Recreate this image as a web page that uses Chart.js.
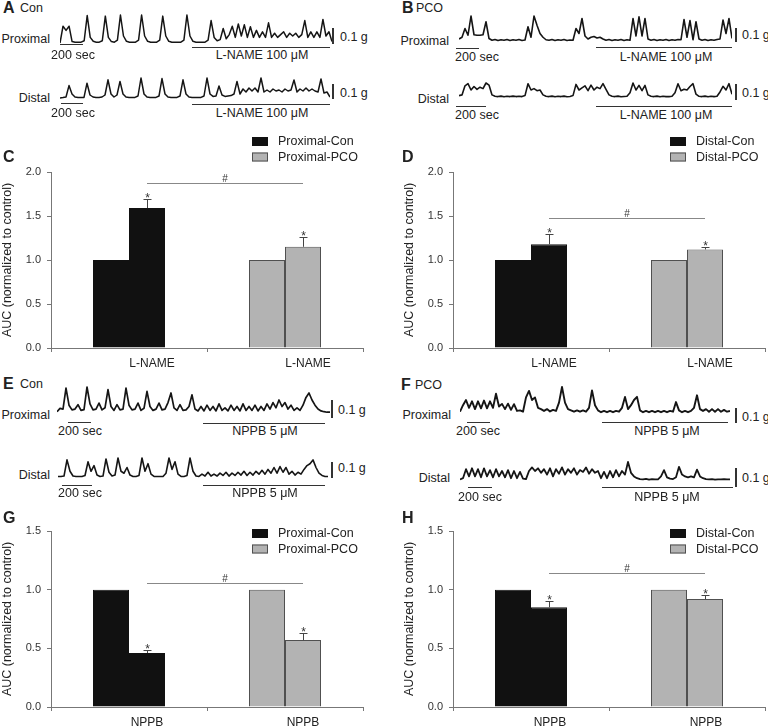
<!DOCTYPE html>
<html>
<head>
<meta charset="utf-8">
<script src="https://cdn.jsdelivr.net/npm/chart.js@4.4.0/dist/chart.umd.min.js"></script>
<style>
  body { margin: 0; background: #fff; }
  #fig { position: relative; width: 768px; height: 726px; overflow: hidden; background: #fff;
         font-family: 'Liberation Sans', Arial, Helvetica, sans-serif; color: #222; }
  #fig canvas { position: absolute; }
  .t { position: absolute; white-space: nowrap; font-size: 12.5px; line-height: 1; }
  .ln { position: absolute; background: #333; }
</style>
</head>
<body>
<div id="fig"></div>
<script>
// contraction traces, 0 = resting tone, 10 = tallest contraction of that trace
var conProxLName = [0, 6, 4.5, 6, 0.5, 0.3, 0.3, 0.3, 0.8, 9.8,
  2, 0.6, 0.3, 0.3, 0.8, 9.6, 2, 0.5, 0.3, 1,
  10, 2.5, 0.6, 0.3, 0.3, 0.3, 1, 10, 2.5, 0.6,
  0.3, 0.3, 0.3, 1, 9.6, 2.5, 0.6, 0.3, 0.3, 0.3,
  0.3, 1, 10, 2.5, 0.6, 0.3, 0.3, 0.3, 0.3, 1,
  8, 2, 0.8, 1.2, 5.2, 1.5, 3, 6, 2, 6.8,
  2.5, 6.5, 2, 5.8, 2, 4.5, 2, 4, 2, 7.2,
  2, 3.5, 2, 3, 4, 2, 3.5, 2.5, 3.5, 2,
  3, 8, 2, 4, 2, 4, 2, 8.4, 2.5, 4,
  0.5];
var conDistLName = [0, 0.2, 0.5, 6.2, 2, 0.5, 0.3, 0.3, 0.3, 7.4,
  1.5, 0.5, 0.3, 0.3, 0.5, 1.5, 9.1, 2, 0.5, 1.5,
  8.3, 2, 0.5, 0.3, 0.3, 0.3, 1, 10, 2, 0.5,
  0.3, 0.3, 0.3, 1, 9.7, 2, 0.5, 0.3, 0.3, 0.3,
  1, 9.1, 2, 0.5, 0.3, 0.3, 0.3, 0.3, 1, 10,
  2, 0.8, 1, 6, 1.5, 0.8, 1, 1.2, 2, 8.3,
  2, 4.5, 3, 5, 3.5, 5, 3, 10, 3, 4,
  3, 4.5, 3.5, 4, 3, 4.5, 3.5, 4, 9, 3,
  4.5, 3.5, 5, 3.5, 4.5, 3.5, 3, 9.5, 2.5, 3,
  0.5];
var pcoProxLName = [0.8, 1.5, 5, 2.3, 10, 2.5, 2.3, 2.3, 2.5, 7.7,
  1, 0.3, 0.6, 0.2, 0.5, 0.3, 0.6, 0.2, 0.5, 0.3,
  0.6, 0.2, 0.4, 5.7, 1.5, 10, 6.3, 3, 1.5, 0.5,
  0.3, 0.6, 0.2, 0.5, 0.3, 0.6, 0.2, 0.4, 0.3, 5,
  3, 9, 2, 0.8, 1.5, 1.8, 1.2, 1.5, 0.8, 0.3,
  0.6, 0.2, 0.5, 0.3, 0.6, 0.2, 0.5, 0.3, 9, 2,
  9.7, 2, 9, 0.8, 0.3, 0.6, 0.2, 0.5, 0.3, 0.6,
  0.2, 0.5, 0.3, 0.6, 0.5, 8.6, 1.5, 8.2, 0.5, 7.7,
  0.8, 0.3, 0.6, 0.2, 0.5, 0.3, 0.6, 0.8, 8.4, 3,
  9, 1];
var pcoDistLName = [1, 1.5, 8, 9.5, 5, 7.5, 5.5, 7, 6, 10,
  8.5, 1.5, 0.5, 0.3, 0.6, 0.2, 0.5, 0.3, 0.6, 0.3,
  0.5, 0.3, 1, 9.5, 5, 6, 4.5, 5, 1.5, 0.5,
  0.3, 0.6, 0.2, 0.5, 0.3, 0.6, 0.2, 0.4, 1, 9,
  5, 6.5, 8, 4.5, 8.5, 5, 7, 6, 9.5, 5.5,
  1.5, 0.5, 0.3, 0.6, 0.2, 0.4, 0.5, 3, 10, 5,
  8.3, 4.5, 8.3, 1.5, 0.5, 0.3, 0.6, 0.2, 0.5, 0.3,
  0.3, 0.5, 3, 9.5, 4.5, 5.5, 5, 7.5, 9.5, 2,
  0.5, 0.3, 0.6, 0.2, 0.5, 0.3, 0.5, 3.6, 7.6, 5,
  9.5, 2];
var conProxNppb = [0.5, 1.8, 1.5, 9.6, 3, 1.2, 1.5, 3.2, 1, 1.3,
  10, 3.5, 1.2, 1.5, 3.8, 1.2, 2, 9, 2.5, 1,
  3.2, 1.2, 1.5, 9.6, 3, 1.2, 1.5, 3.8, 1, 1.8,
  8.3, 2.5, 1, 1.5, 3.8, 1.2, 1.5, 4, 7.7, 2,
  1, 3.2, 1, 1.2, 2.5, 7, 1.5, 0.8, 2.5, 0.8,
  3, 1, 2.5, 0.8, 3.5, 1, 2, 0.8, 3, 1,
  2.5, 0.8, 3.5, 1, 2.5, 1, 3, 0.8, 2.5, 1,
  3.5, 1.5, 4, 2, 5, 2.5, 4, 1.5, 3, 1,
  2, 1, 3, 6, 7.7, 5, 3, 1.5, 0.8, 0.5,
  0.3, 0.3];
var conDistNppb = [0.3, 0.3, 0.5, 9, 3, 0.5, 0.3, 0.3, 0.3, 0.8,
  8, 3, 6, 1, 0.3, 0.5, 9.5, 2.5, 0.5, 1,
  10, 3, 2, 5, 1, 0.3, 0.3, 0.8, 10, 3,
  7, 1.5, 0.3, 0.3, 0.3, 0.3, 2, 10, 4, 8,
  1.5, 0.3, 0.3, 0.8, 10, 3, 0.5, 0.3, 1.5, 0.5,
  2.5, 0.5, 1.5, 0.5, 2, 0.8, 2.5, 0.5, 2, 0.8,
  2.5, 1, 3, 0.8, 2.5, 1, 3, 1.5, 3.5, 1.5,
  4, 2, 5, 2, 5.5, 2.5, 5, 1.5, 3, 1,
  2.5, 1.5, 4, 6, 7, 9, 5, 2, 0.8, 0.3,
  0.3];
var pcoProxNppb = [0.5, 3, 5, 2, 4.5, 1.5, 4.5, 1.8, 4.8, 1.8,
  4.5, 2, 7.4, 2.5, 3.5, 1.5, 3.6, 1.2, 3.4, 0.8,
  1, 0.5, 6, 8.5, 5, 6, 2, 1.5, 0.8, 1.5,
  0.6, 1.2, 0.8, 4, 10, 4, 1.5, 1, 0.5, 1,
  0.5, 1, 0.5, 2, 8.7, 3, 1, 0.3, 0.8, 0.3,
  0.8, 0.3, 0.8, 0.5, 2, 6.2, 1.5, 3, 5, 6.2,
  1, 0.3, 0.8, 0.3, 0.8, 0.3, 0.8, 0.3, 0.8, 0.3,
  0.8, 0.5, 4.2, 1, 0.3, 0.8, 0.3, 0.8, 2, 6.8,
  1.5, 0.8, 1.5, 0.5, 1.5, 0.5, 1.5, 0.5, 1.2, 0.5,
  0.8];
var pcoDistNppb = [0.3, 1, 6, 2, 6.5, 2, 6, 1.5, 6.5, 2,
  5.5, 1.5, 6, 2, 5, 1.5, 5.5, 1, 5, 1,
  4.5, 0.8, 0.5, 5, 7, 5, 6.5, 4, 6, 3,
  6.5, 2, 6, 3.5, 7, 3, 6, 4, 6.5, 3,
  5.5, 4.5, 7, 3.5, 6, 4, 5, 1, 4.5, 1,
  5, 1.5, 5.5, 2, 5, 3, 10, 4, 2, 1,
  0.5, 0.3, 0.6, 0.2, 0.5, 0.3, 0.4, 2, 5.5, 1.5,
  0.8, 0.5, 1.5, 7.3, 3, 2, 1.5, 2, 1.5, 5.8,
  2, 1, 0.5, 0.3, 0.5, 0.2, 0.4, 0.3, 0.5, 0.3,
  0.3];

// AUC bars (normalized to control)
var lnameTicks = ['L-NAME', 'L-NAME'];
var nppbTicks = ['NPPB', 'NPPB'];
var proxLegend = ['Proximal-Con', 'Proximal-PCO'];
var distLegend = ['Distal-Con', 'Distal-PCO'];
var proxLNameBase = [1.0, 1.0];
var proxLNameDrug = [1.59, 1.15];
var proxLNameErr = [0.10, 0.11];
var distLNameBase = [1.0, 1.0];
var distLNameDrug = [1.18, 1.12];
var distLNameErr = [0.12, 0.03];
var proxNppbBase = [1.0, 1.0];
var proxNppbDrug = [0.46, 0.57];
var proxNppbErr = [0.03, 0.06];
var distNppbBase = [1.0, 1.0];
var distNppbDrug = [0.85, 0.92];
var distNppbErr = [0.05, 0.035];

var FONT = "'Liberation Sans', Arial, Helvetica, sans-serif";
Chart.defaults.font.family = FONT;
Chart.defaults.color = '#222';
var barFill = ['#111111', '#b3b3b3'];
var barEdge = ['#111111', '#505050'];
var fig = document.getElementById('fig');

function txt(x, y, s, align, css) {
  var d = document.createElement('div');
  d.className = 't';
  d.textContent = s;
  var tx = align === 'c' ? '-50%' : (align === 'r' ? '-100%' : '0');
  d.style.left = x + 'px';
  d.style.top = y + 'px';
  d.style.transform = 'translate(' + tx + ',-50%)';
  if (css) d.style.cssText += css;
  fig.appendChild(d);
}
function hl(x1, x2, y) {
  var d = document.createElement('div');
  d.className = 'ln';
  d.style.cssText += 'left:' + x1 + 'px;top:' + (y - 0.5) + 'px;width:' + (x2 - x1) + 'px;height:1px';
  fig.appendChild(d);
}
function vl(x, y1, y2) {
  var d = document.createElement('div');
  d.className = 'ln';
  d.style.cssText += 'left:' + (x - 0.75) + 'px;top:' + y1 + 'px;width:1.5px;height:' + (y2 - y1) + 'px';
  fig.appendChild(d);
}

function trace(values, x0, x1, base, peak, lw) {
  var u = (base - peak) / 10, pad = 3;
  var c = document.createElement('canvas');
  c.width = x1 - x0;
  c.height = base - peak + 2 * pad;
  c.style.left = x0 + 'px';
  c.style.top = (peak - pad) + 'px';
  fig.appendChild(c);
  new Chart(c, {
    type: 'line',
    data: {
      labels: values.map(function (v, i) { return i; }),
      datasets: [{ data: values, borderColor: '#151515', borderWidth: lw, pointRadius: 0, tension: 0,
                   borderJoinStyle: 'round' }]
    },
    options: {
      responsive: false, animation: false, events: [],
      layout: { padding: 0 },
      plugins: { legend: { display: false }, tooltip: { enabled: false } },
      scales: {
        x: { display: false },
        y: { display: false, min: -pad / u, max: 10 + pad / u }
      }
    }
  });
}

function aucChart(p) {
  var c = document.createElement('canvas');
  c.width = p.w;
  c.height = p.h;
  c.style.left = p.x + 'px';
  c.style.top = p.y + 'px';
  fig.appendChild(c);

  var marks = {
    id: 'marks',
    afterDatasetsDraw: function (chart) {
      var ctx = chart.ctx, y = chart.scales.y;
      var bars = chart.getDatasetMeta(1).data;
      ctx.save();
      ctx.lineWidth = 1;
      ctx.textAlign = 'center';
      ctx.textBaseline = 'alphabetic';
      bars.forEach(function (bar, j) {
        var top = Math.round(y.getPixelForValue(p.drug[j] + p.err[j])) + 0.5;
        var bx = Math.round(bar.x) + 0.5;
        ctx.strokeStyle = '#444';
        ctx.beginPath();
        ctx.moveTo(bx, bar.y);
        ctx.lineTo(bx, top);
        ctx.moveTo(bx - 4, top);
        ctx.lineTo(bx + 4, top);
        ctx.stroke();
        ctx.fillStyle = '#333';
        ctx.font = '12px ' + FONT;
        ctx.fillText('*', bx, top + 2);
      });
      var sy = Math.round(y.getPixelForValue(p.sig)) + 0.5;
      ctx.strokeStyle = '#888';
      ctx.beginPath();
      ctx.moveTo(bars[0].x, sy);
      ctx.lineTo(bars[1].x, sy);
      ctx.stroke();
      ctx.fillStyle = '#333';
      ctx.font = '10px ' + FONT;
      ctx.fillText('#', (bars[0].x + bars[1].x) / 2, sy - 2);

      p.legend.forEach(function (name, j) {
        var ly = p.ly + j * 15.5;
        ctx.fillStyle = barFill[j];
        ctx.fillRect(p.lx, ly, 16, 9);
        ctx.strokeStyle = barEdge[j];
        ctx.strokeRect(p.lx + 0.5, ly + 0.5, 15, 8);
        ctx.fillStyle = '#222';
        ctx.font = '12.5px ' + FONT;
        ctx.textAlign = 'left';
        ctx.textBaseline = 'middle';
        ctx.fillText(name, p.lx + 26, ly + 5);
      });
      ctx.restore();
    }
  };

  new Chart(c, {
    type: 'bar',
    data: {
      labels: p.ticks,
      datasets: [
        { data: p.base, backgroundColor: barFill, borderColor: barEdge, borderWidth: 1,
          categoryPercentage: 72 / 156, barPercentage: 1 },
        { data: p.drug, backgroundColor: barFill, borderColor: barEdge, borderWidth: 1,
          categoryPercentage: 72 / 156, barPercentage: 1 }
      ]
    },
    options: {
      responsive: false, animation: false, events: [],
      layout: { padding: { left: 0, right: p.padR, top: p.padT, bottom: 0 } },
      plugins: { legend: { display: false }, tooltip: { enabled: false } },
      scales: {
        x: {
          ticks: { labelOffset: p.labelOffset, padding: 4, color: '#222', font: { size: 12 } },
          grid: { drawOnChartArea: false, tickLength: 4, color: '#777', offset: true },
          border: { color: '#777' },
          afterFit: function (s) { s.height = p.axisH; }
        },
        y: {
          min: 0, max: p.max,
          ticks: { stepSize: 0.5, padding: 6, color: '#333', font: { size: 11 },
                   callback: function (v) { return v.toFixed(1); } },
          grid: { drawOnChartArea: false, tickLength: 4, color: '#777' },
          border: { color: '#777' },
          title: { display: true, text: 'AUC (normalized to control)', color: '#222',
                   font: { size: 12.5 }, padding: { top: p.titlePad, bottom: 0 } },
          afterFit: function (s) { s.width = p.axisW; }
        }
      }
    },
    plugins: [marks]
  });
}

// ---- traces ----
trace(conProxLName, 60, 332, 43, 15, 1.5);
trace(conDistLName, 60, 330, 98, 78, 1.5);
trace(pcoProxLName, 459, 732, 41, 16, 1.6);
trace(pcoDistLName, 459, 732, 97, 83, 1.6);
trace(conProxNppb, 57, 330, 413, 387, 1.7);
trace(conDistNppb, 58, 328, 477, 458, 1.6);
trace(pcoProxNppb, 460, 730, 413, 387, 1.9);
trace(pcoDistNppb, 460, 730, 480, 462, 1.8);

// ---- AUC bar charts ----
aucChart({ x: 0, y: 128, w: 384, h: 247, axisW: 51, padR: 21, padT: 44, axisH: 27, max: 2,
  ticks: lnameTicks, legend: proxLegend, base: proxLNameBase, drug: proxLNameDrug, err: proxLNameErr,
  sig: 1.875, labelOffset: 23, titlePad: 0, lx: 252, ly: 9 });
aucChart({ x: 400, y: 128, w: 368, h: 247, axisW: 53, padR: 3, padT: 44, axisH: 27, max: 2,
  ticks: lnameTicks, legend: distLegend, base: distLNameBase, drug: distLNameDrug, err: distLNameErr,
  sig: 1.48, labelOffset: 23, titlePad: 2, lx: 270, ly: 9 });
aucChart({ x: 0, y: 500, w: 384, h: 226, axisW: 51, padR: 21, padT: 31, axisH: 19, max: 1.5,
  ticks: nppbTicks, legend: proxLegend, base: proxNppbBase, drug: proxNppbDrug, err: proxNppbErr,
  sig: 1.06, labelOffset: 18, titlePad: 0, lx: 252, ly: 29 });
aucChart({ x: 400, y: 500, w: 368, h: 226, axisW: 53, padR: 3, padT: 31, axisH: 19, max: 1.5,
  ticks: nppbTicks, legend: distLegend, base: distNppbBase, drug: distNppbDrug, err: distNppbErr,
  sig: 1.14, labelOffset: 19, titlePad: 2, lx: 270, ly: 29 });

// ---- panel letters and trace annotations ----
var bold = 'font-size:16px;font-weight:bold';
txt(3, 8, 'A', 'l', bold);   txt(20, 8, 'Con');
txt(402, 8, 'B', 'l', bold); txt(416, 8, 'PCO');
txt(3, 157, 'C', 'l', bold);
txt(402, 157, 'D', 'l', bold);
txt(3, 384, 'E', 'l', bold); txt(20, 384, 'Con');
txt(401, 385, 'F', 'l', bold); txt(415, 385, 'PCO');
txt(3, 518, 'G', 'l', bold);
txt(402, 518, 'H', 'l', bold);

txt(50, 39, 'Proximal', 'r');  txt(50, 98, 'Distal', 'r');
txt(449, 41, 'Proximal', 'r'); txt(449, 99, 'Distal', 'r');
txt(50, 415, 'Proximal', 'r'); txt(50, 475, 'Distal', 'r');
txt(451, 415, 'Proximal', 'r'); txt(450, 478, 'Distal', 'r');

// scale bars
vl(333, 28, 44);  txt(340, 37, '0.1 g');
vl(333, 84, 99);  txt(340, 93, '0.1 g');
vl(736, 28, 42);  txt(742, 35, '0.1 g');
vl(736, 84, 100); txt(742, 93, '0.1 g');
vl(332, 400, 418); txt(338, 410, '0.1 g');
vl(332, 462, 478); txt(338, 468, '0.1 g');
vl(736, 408, 423); txt(742, 417, '0.1 g');
vl(736, 468, 487); txt(742, 478, '0.1 g');

// time bars
hl(60, 83, 44);   txt(73, 55, '200 sec', 'c');
hl(61, 83, 103);  txt(73, 113, '200 sec', 'c');
hl(456, 479, 48); txt(477, 57, '200 sec', 'c');
hl(456, 486, 106); txt(477, 115, '200 sec', 'c');
hl(68, 91, 422);  txt(80, 431, '200 sec', 'c');
hl(62, 92, 485);  txt(80, 493, '200 sec', 'c');
hl(467, 490, 422); txt(478, 431, '200 sec', 'c');
hl(468, 492, 487); txt(480, 497, '200 sec', 'c');

// drug application bars
hl(192, 330, 47);  txt(262, 55, 'L-NAME 100 \u03bcM', 'c');
hl(192, 330, 104); txt(262, 113, 'L-NAME 100 \u03bcM', 'c');
hl(596, 732, 47);  txt(666, 57, 'L-NAME 100 \u03bcM', 'c');
hl(596, 732, 106); txt(666, 115, 'L-NAME 100 \u03bcM', 'c');
hl(203, 325, 423); txt(265, 431, 'NPPB 5 \u03bcM', 'c');
hl(203, 325, 485); txt(265, 493, 'NPPB 5 \u03bcM', 'c');
hl(602, 728, 422); txt(667, 431, 'NPPB 5 \u03bcM', 'c');
hl(602, 733, 487); txt(667, 497, 'NPPB 5 \u03bcM', 'c');
</script>
</body>
</html>
